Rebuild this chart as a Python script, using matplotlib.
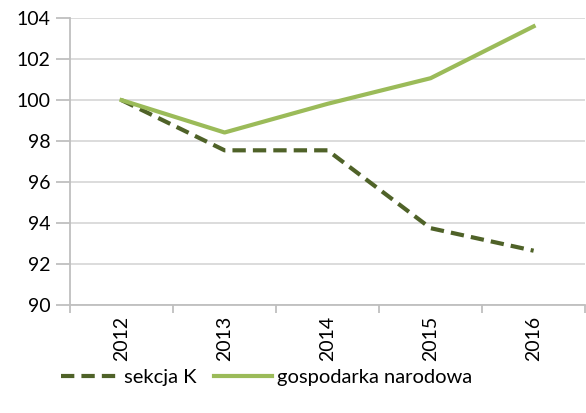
import matplotlib.pyplot as plt
import numpy as np

years = ["2012", "2013", "2014", "2015", "2016"]
sekcja_k = [100.0, 97.55, 97.55, 93.75, 92.65]
gospodarka = [100.0, 98.42, 99.82, 101.07, 103.6]
yticks = [90, 92, 94, 96, 98, 100, 102, 104]

plt.rcParams['font.family'] = ['Lato', 'DejaVu Sans']

fig = plt.figure(figsize=(5.86, 4.13), dpi=100)
ax = fig.add_axes([0.1195, 0.2615, 0.879, 0.6945])

x = np.arange(len(years))
ax.plot(x, sekcja_k, color="#4f6228", lw=3, ls=(0, (3.2, 1.7)), label="sekcja K")
ax.plot(x, gospodarka, color="#9bbb59", lw=3, label="gospodarka narodowa")

ax.set_ylim(90, 104)
ax.set_yticks(yticks)
ax.set_xlim(-0.5, len(years) - 0.5)
ax.set_xticks(x)
ax.set_xticklabels(years, rotation=90)
ax.set_xticks(np.arange(-0.5, len(years)), minor=True)
ax.tick_params(axis="x", which="major", length=0, pad=8, labelsize=14)
ax.tick_params(axis="x", which="minor", length=6, color="#bfbfbf", width=1.3)
ax.tick_params(axis="y", length=10, color="#bfbfbf", width=1.3, labelsize=14, pad=4)

ax.grid(axis="y", color="#d9d9d9", lw=1.3)
ax.set_axisbelow(True)
for s in ["top", "right"]:
    ax.spines[s].set_visible(False)
for s in ["left", "bottom"]:
    ax.spines[s].set_color("#bfbfbf")
    ax.spines[s].set_linewidth(1.3)

fig.legend(loc="center", bbox_to_anchor=(0.455, 0.085), ncol=2, frameon=False,
           fontsize=14.5, handlelength=2.9, handletextpad=0.25, columnspacing=0.85)

fig.savefig("out.png", dpi=100)
